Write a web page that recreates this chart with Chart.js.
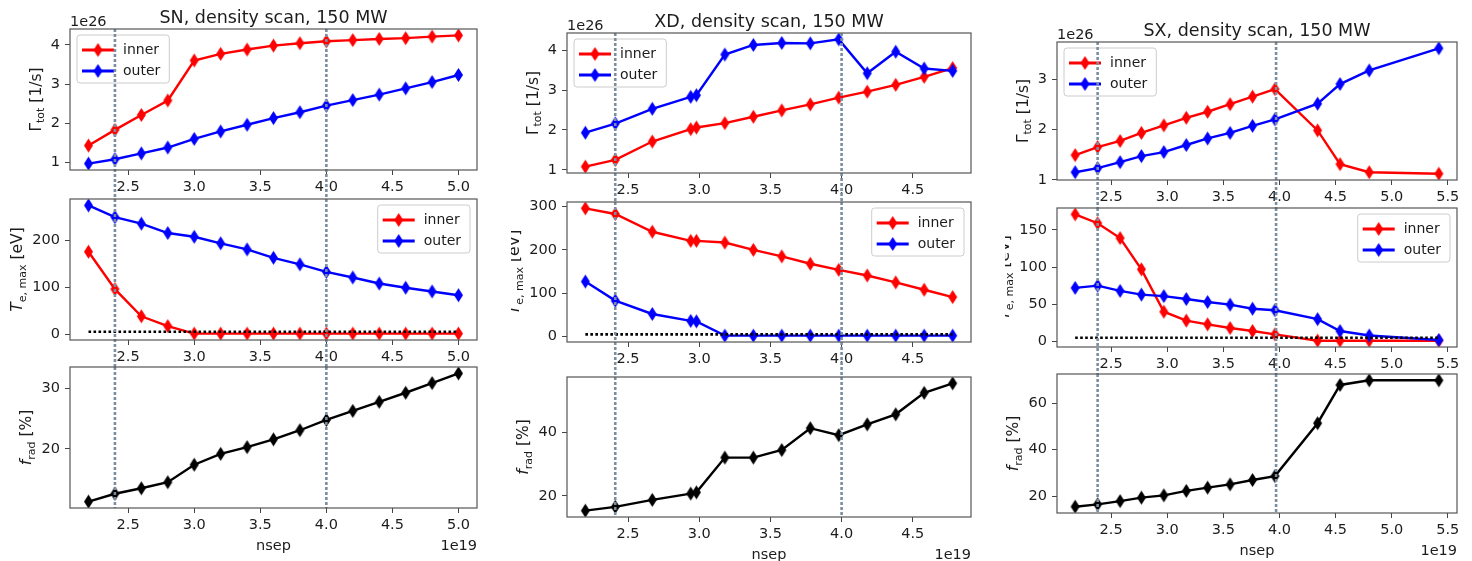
<!DOCTYPE html>
<html>
<head>
<meta charset="utf-8">
<script src="https://cdn.jsdelivr.net/npm/chart.js@4.4.0/dist/chart.umd.min.js"></script>
<style>
  body { margin: 0; background: #fff; width: 1472px; height: 561px; position: relative; overflow: hidden; }
  canvas { position: absolute; top: 0; }
</style>
</head>
<body>
<script>
// nsep in units of 1e19, particle flux in 1e26 1/s, Te in eV, frad in %
var snN = [2.2, 2.4, 2.6, 2.8, 3.0, 3.2, 3.4, 3.6, 3.8, 4.0, 4.2, 4.4, 4.6, 4.8, 5.0];
var snGamIn = [1.43, 1.83, 2.21, 2.58, 3.60, 3.77, 3.88, 3.98, 4.04, 4.09, 4.12, 4.15, 4.17, 4.21, 4.24];
var snGamOut = [0.97, 1.08, 1.23, 1.38, 1.60, 1.79, 1.96, 2.13, 2.28, 2.45, 2.59, 2.73, 2.89, 3.05, 3.23];
var snTeIn = [176, 96, 38, 17, 1, 1, 1, 1, 1, 1, 1, 1, 1, 1, 1];
var snTeOut = [275, 250, 236, 216, 208, 194, 181, 163, 149, 133, 121, 108, 99, 91, 83];
var snFrad = [11.3, 12.6, 13.5, 14.5, 17.4, 19.2, 20.3, 21.6, 23.1, 24.8, 26.3, 27.8, 29.3, 30.9, 32.5];
var snMarks = [2.4, 4.0];

var xdN = [2.2, 2.41, 2.67, 2.94, 2.98, 3.18, 3.38, 3.58, 3.78, 3.98, 4.18, 4.38, 4.58, 4.78];
var xdGamIn = [1.08, 1.25, 1.71, 2.02, 2.06, 2.17, 2.33, 2.49, 2.64, 2.81, 2.96, 3.13, 3.33, 3.55];
var xdGamOut = [1.93, 2.16, 2.53, 2.83, 2.87, 3.89, 4.13, 4.18, 4.17, 4.27, 3.42, 3.96, 3.54, 3.48];
var xdTeIn = [296, 283, 242, 221, 221, 217, 200, 185, 168, 154, 141, 125, 108, 91];
var xdTeOut = [127, 83, 52, 36, 35, 2, 2, 2, 2, 2, 2, 2, 2, 2];
var xdFrad = [15.3, 16.5, 18.7, 20.7, 21.1, 32.1, 32.1, 34.5, 41.4, 39.2, 42.6, 45.8, 52.6, 55.6];
var xdMarks = [2.41, 4.0];

var sxN = [2.18, 2.38, 2.58, 2.77, 2.97, 3.17, 3.36, 3.56, 3.76, 3.96, 4.34, 4.54, 4.8, 5.42];
var sxGamIn = [1.49, 1.65, 1.77, 1.93, 2.08, 2.23, 2.35, 2.50, 2.65, 2.80, 1.98, 1.31, 1.15, 1.12];
var sxGamOut = [1.15, 1.23, 1.35, 1.47, 1.55, 1.69, 1.82, 1.93, 2.07, 2.20, 2.51, 2.90, 3.17, 3.61];
var sxTeIn = [171, 159, 139, 97, 40, 28, 23, 18, 14, 9.5, 1, 1, 1, 1];
var sxTeOut = [72, 75, 68, 63, 61, 57, 53, 49.5, 44, 42, 30, 14, 8, 2];
var sxFrad = [15.4, 16.4, 17.8, 19.3, 20.3, 22.2, 23.6, 25.0, 26.9, 28.6, 51.4, 67.9, 69.9, 69.9];
var sxMarks = [2.38, 3.97];

var teFloor = 5; // reference Te level

var snXTicks = [2.5, 3.0, 3.5, 4.0, 4.5, 5.0];
var xdXTicks = [2.5, 3.0, 3.5, 4.0, 4.5];
var sxXTicks = [2.5, 3.0, 3.5, 4.0, 4.5, 5.0, 5.5];
var snYTicks = [[1, 2, 3, 4], [0, 100, 200], [20, 30]];
var xdYTicks = [[1, 2, 3, 4], [0, 100, 200, 300], [20, 40]];
var sxYTicks = [[1, 2, 3], [0, 50, 100, 150], [20, 40, 60]];

var seriesNames = ['inner', 'outer'];

var FONT = 'DejaVu Sans';
var TXT = '#1c1c1c';
var H = 561;
var TICK_PX = 14.5, LABEL_PX = 15.5;

function diamond(color) {
  var c = document.createElement('canvas');
  c.width = 11; c.height = 16;
  var g = c.getContext('2d');
  g.beginPath();
  g.moveTo(5.5, 1); g.lineTo(10, 8); g.lineTo(5.5, 15); g.lineTo(1, 8);
  g.closePath();
  g.fillStyle = color;
  g.fill();
  return c;
}
var dRed = diamond('#f00'), dBlue = diamond('#00f'), dBlack = diamond('#000');

function pts(xs, ys) {
  return xs.map(function (x, i) { return { x: x, y: ys[i] }; });
}

// matplotlib-style 5% autoscale margins
function lims(vals) {
  var lo = Math.min.apply(null, vals), hi = Math.max.apply(null, vals);
  var m = (hi - lo) * 0.05;
  return [lo - m, hi + m];
}

// rotated label with italic / subscript parts
function rotLabel(ctx, parts, cx, cy, size) {
  var fonts = parts.map(function (p) {
    var s = p[1].indexOf('s') >= 0 ? Math.round(size * 0.7) : size;
    return (p[1].indexOf('i') >= 0 ? 'italic ' : '') + s + 'px ' + FONT;
  });
  var total = 0, ws = [];
  parts.forEach(function (p, i) { ctx.font = fonts[i]; var w = ctx.measureText(p[0]).width; ws.push(w); total += w; });
  ctx.save();
  ctx.translate(cx, cy);
  ctx.rotate(-Math.PI / 2);
  ctx.fillStyle = TXT;
  ctx.textBaseline = 'alphabetic';
  ctx.textAlign = 'left';
  var x = -total / 2;
  parts.forEach(function (p, i) {
    ctx.font = fonts[i];
    var dy = size * 0.36 + (p[1].indexOf('s') >= 0 ? size * 0.25 : 0);
    ctx.fillText(p[0], x, dy);
    x += ws[i];
  });
  ctx.restore();
}

function drawLegend(ctx, a, side, entries) {
  ctx.save();
  ctx.font = '14px ' + FONT;
  var tw = Math.max.apply(null, entries.map(function (e) { return ctx.measureText(e.label).width; }));
  var w = 46 + tw + 9, h = 48;
  var x0 = side === 'ul' ? a.left + 7 : a.right - 7 - w;
  var y0 = a.top + 6;
  ctx.beginPath();
  ctx.roundRect(x0, y0, w, h, 3);
  ctx.fillStyle = 'rgba(255,255,255,0.8)';
  ctx.fill();
  ctx.strokeStyle = '#cccccc';
  ctx.lineWidth = 1;
  ctx.stroke();
  entries.forEach(function (e, i) {
    var y = y0 + 15 + i * 21;
    ctx.strokeStyle = e.color;
    ctx.lineWidth = 3;
    ctx.beginPath(); ctx.moveTo(x0 + 5, y); ctx.lineTo(x0 + 37, y); ctx.stroke();
    ctx.drawImage(e.marker, x0 + 21 - 5.5, y - 8);
    ctx.fillStyle = TXT;
    ctx.textBaseline = 'middle';
    ctx.fillText(e.label, x0 + 46, y);
  });
  ctx.restore();
}

var deco = {
  id: 'deco',
  afterDatasetsDraw: function (chart, args, o) {
    var ctx = chart.ctx, a = chart.chartArea, xs = chart.scales.x;
    if (o.legend) drawLegend(ctx, a, o.legend, o.entries);
    ctx.save();
    ctx.strokeStyle = '#7b8ea1';
    ctx.lineWidth = 2.6;
    ctx.setLineDash([3, 2]);
    o.marks.forEach(function (v) {
      var px = xs.getPixelForValue(v);
      ctx.beginPath(); ctx.moveTo(px, a.top); ctx.lineTo(px, o.lineEnd); ctx.stroke();
    });
    ctx.restore();
    ctx.save();
    ctx.strokeStyle = '#555';
    ctx.lineWidth = 1.2;
    ctx.strokeRect(a.left, a.top, a.width, a.height);
    ctx.restore();
  },
  afterDraw: function (chart, args, o) {
    var ctx = chart.ctx, a = chart.chartArea, ys = chart.scales.y;
    ctx.save();
    ctx.font = TICK_PX + 'px ' + FONT;
    var widest = 0;
    ys.ticks.forEach(function (t) { widest = Math.max(widest, ctx.measureText(String(t.value)).width); });
    ctx.restore();
    rotLabel(ctx, o.ylabel, a.left - 10 - widest - 8 - LABEL_PX / 2, (a.top + a.bottom) / 2, LABEL_PX);

    ctx.save();
    ctx.fillStyle = TXT;
    ctx.textBaseline = 'alphabetic';
    if (o.title) {
      ctx.font = '17.5px ' + FONT;
      ctx.textAlign = 'center';
      ctx.fillText(o.title, (a.left + a.right) / 2, a.top - 6.5);
    }
    if (o.yOffset) {
      ctx.font = TICK_PX + 'px ' + FONT;
      ctx.textAlign = 'left';
      ctx.fillText(o.yOffset, a.left, a.top - 3);
    }
    if (o.xlabel) {
      ctx.font = TICK_PX + 'px ' + FONT;
      ctx.textAlign = 'center';
      ctx.fillText(o.xlabel, (a.left + a.right) / 2, a.bottom + 41.5);
      ctx.textAlign = 'right';
      ctx.fillText(o.xOffset, a.right, a.bottom + 41.5);
    }
    ctx.restore();
  }
};

var cols = [
  { left: 0, width: 497, plotL: 70, plotR: 477, title: 'SN, density scan, 150 MW',
    n: snN, marks: snMarks, xt: snXTicks, yt: snYTicks,
    rows: [[29, 170], [199, 340], [367, 508]],
    gam: [snGamIn, snGamOut], te: [snTeIn, snTeOut], frad: snFrad },
  { left: 511, width: 477, plotL: 567, plotR: 971, title: 'XD, density scan, 150 MW',
    n: xdN, marks: xdMarks, xt: xdXTicks, yt: xdYTicks,
    rows: [[33, 173], [202, 342], [377, 517]],
    gam: [xdGamIn, xdGamOut], te: [xdTeIn, xdTeOut], frad: xdFrad },
  { left: 1005, width: 467, plotL: 1057, plotR: 1457, title: 'SX, density scan, 150 MW',
    n: sxN, marks: sxMarks, xt: sxXTicks, yt: sxYTicks,
    rows: [[42, 180], [208, 347], [374, 513]],
    gam: [sxGamIn, sxGamOut], te: [sxTeIn, sxTeOut], frad: sxFrad }
];

var legendEntries = [
  { label: seriesNames[0], color: '#f00', marker: dRed },
  { label: seriesNames[1], color: '#00f', marker: dBlue }
];

function lineSet(label, data, color, marker, order) {
  return {
    label: label, data: data, borderColor: color, backgroundColor: color,
    borderWidth: 2.4, pointStyle: marker, pointRadius: 5, tension: 0, fill: false, order: order
  };
}

cols.forEach(function (c) {
  var xl = lims(c.n);
  c.rows.forEach(function (r, ri) {
    var datasets, yl;
    if (ri === 0) {
      datasets = [
        lineSet(seriesNames[1], pts(c.n, c.gam[1]), '#00f', dBlue, 1),
        lineSet(seriesNames[0], pts(c.n, c.gam[0]), '#f00', dRed, 2)
      ];
      yl = lims(c.gam[0].concat(c.gam[1]));
    } else if (ri === 1) {
      var floor = [c.n[0], c.n[c.n.length - 1]].map(function (x) { return { x: x, y: teFloor }; });
      datasets = [
        { label: 'floor', data: floor, borderColor: '#000', borderWidth: 2.6, borderDash: [2.6, 2.4], pointRadius: 0, fill: false, order: 0 },
        lineSet(seriesNames[1], pts(c.n, c.te[1]), '#00f', dBlue, 1),
        lineSet(seriesNames[0], pts(c.n, c.te[0]), '#f00', dRed, 2)
      ];
      yl = lims(c.te[0].concat(c.te[1], [teFloor]));
    } else {
      datasets = [lineSet('frad', pts(c.n, c.frad), '#000', dBlack, 1)];
      yl = lims(c.frad);
    }

    var cv = document.createElement('canvas');
    cv.width = c.width; cv.height = H;
    cv.style.left = c.left + 'px';
    document.body.appendChild(cv);

    var yt = c.yt[ri];
    var deOpts = {
      marks: c.marks,
      lineEnd: ri < 2 ? c.rows[ri + 1][0] : r[1],
      ylabel: ri === 0 ? [['\u0393', ''], ['tot', 's'], [' [1/s]', '']]
            : ri === 1 ? [['T', 'i'], ['e, max', 's'], [' [eV]', '']]
            : [['f', 'i'], ['rad', 's'], [' [%]', '']]
    };
    if (ri === 0) { deOpts.title = c.title; deOpts.yOffset = '1e26'; deOpts.legend = 'ul'; deOpts.entries = legendEntries; }
    if (ri === 1) { deOpts.legend = 'ur'; deOpts.entries = legendEntries; }
    if (ri === 2) { deOpts.xlabel = 'nsep'; deOpts.xOffset = '1e19'; }

    var tickFont = { family: FONT, size: TICK_PX };
    new Chart(cv, {
      type: 'line',
      data: { datasets: datasets },
      options: {
        responsive: false,
        animation: false,
        events: [],
        layout: { padding: { top: r[0], right: c.width - (c.plotR - c.left), left: 0, bottom: 0 } },
        plugins: { legend: { display: false }, tooltip: { enabled: false }, deco: deOpts },
        scales: {
          x: {
            type: 'linear', min: xl[0], max: xl[1],
            afterBuildTicks: function (s) { s.ticks = c.xt.map(function (v) { return { value: v }; }); },
            afterFit: function (s) { s.height = H - r[1]; },
            grid: { drawOnChartArea: false, drawTicks: true, tickLength: 5, color: '#444' },
            border: { display: false },
            ticks: { color: TXT, font: tickFont, padding: 4, maxRotation: 0, autoSkip: false,
              callback: function (v) { return v.toFixed(1); } }
          },
          y: {
            type: 'linear', min: yl[0], max: yl[1],
            afterBuildTicks: function (s) { s.ticks = yt.map(function (v) { return { value: v }; }); },
            afterFit: function (s) { s.width = c.plotL - c.left; },
            grid: { drawOnChartArea: false, drawTicks: true, tickLength: 5, color: '#444' },
            border: { display: false },
            ticks: { color: TXT, font: tickFont, padding: 5, autoSkip: false,
              callback: function (v) { return String(v); } }
          }
        }
      },
      plugins: [deco]
    });
  });
});
</script>
</body>
</html>
